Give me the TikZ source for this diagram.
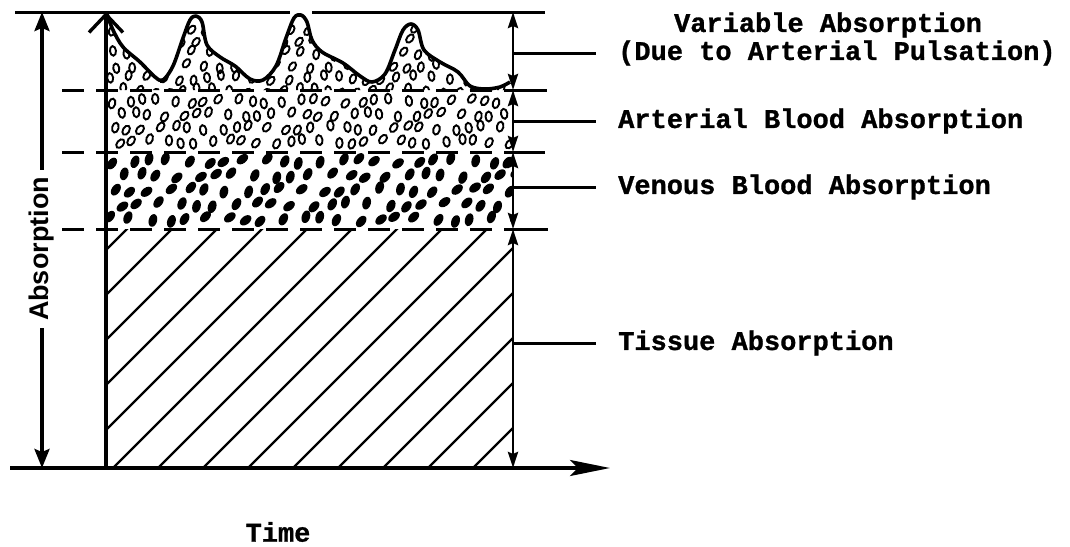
\documentclass[tikz,border=0pt]{standalone}
\usepackage{fontspec}
\setmonofont{Liberation Mono}[BoldFeatures={FakeBold=1}]
\setsansfont{Liberation Sans}
\usetikzlibrary{arrows.meta,positioning}

\begin{document}
\begin{tikzpicture}[
  x=1pt, y=-1pt,
  axis/.style={line width=3.4pt},
  dimln/.style={line width=2.8pt, {Stealth[length=16pt,width=10pt,inset=2pt]}-{Stealth[length=16pt,width=10pt,inset=2pt]}},
  level/.style={line width=3pt, dash pattern=on 22pt off 12pt},
  tick/.style={line width=3pt},
  hatch/.style={line width=2.2pt},
  wave/.style={line width=3.6pt, line join=round},
  cell/.style={line width=1.9pt},
  blob/.style={fill=black},
  lbl/.style={font=\ttfamily\bfseries\fontsize{27}{30}\selectfont, anchor=west, inner xsep=22pt, inner ysep=0pt},
  axlbl/.style={font=\sffamily\bfseries\fontsize{27}{29}\selectfont, inner sep=7pt}
]
\useasboundingbox (0,0) rectangle (1070,546);

% ============================================================
% KEY POINTS
% ============================================================
\coordinate (O) at (106,468);
\coordinate (ytip) at (106,12);
\coordinate (xstart) at (10,468);
\coordinate (xtip) at (610,468);
\coordinate (abstop) at (42,12);
\coordinate (absbot) at (42,468);
\coordinate (d0) at (513,12);
\coordinate (d1) at (513,90);
\coordinate (d2) at (513,152);
\coordinate (d3) at (513,229);
\coordinate (d4) at (513,468);
\coordinate (m1) at (513,53);
\coordinate (m2) at (513,121);
\coordinate (m3) at (513,187);
\coordinate (m4) at (513,343);

% ============================================================
% TISSUE: hatching
% ============================================================
\begin{scope}
  \clip (106,229) rectangle (513,468);
  \foreach \k in {-6,...,8}
    \draw[hatch] (113+45*\k,468) -- ++(250,-250);
\end{scope}

% ============================================================
% VENOUS: black blobs
% ============================================================
\begin{scope}
  \clip (106,152) rectangle (513,229);
  \foreach \i in {0,...,21}
    \foreach \j in {0,...,4} {
      \pgfmathsetmacro\px{112+19*\i+9*mod(\j,2)+4*sin(97*\i+53*\j)}
      \pgfmathsetmacro\py{161+14.5*\j+2.5*cos(71*\i+131*\j)}
      \pgfmathsetmacro\rt{-35+20*sin(43*\i+89*\j)}
      \fill[blob, shift={(\px,\py)}, rotate=\rt] (0,0) ellipse [x radius=4.2pt, y radius=6.5pt];
    }
\end{scope}

% ============================================================
% ARTERIAL: hollow ovals
% ============================================================
\begin{scope}
  \clip (106,90) rectangle (513,152);
  \foreach \i in {0,...,25}
    \foreach \j in {0,...,3} {
      \pgfmathsetmacro\px{112+15.5*\i+7*mod(\j,2)+3.5*sin(97*\i+53*\j)}
      \pgfmathsetmacro\py{101+13.5*\j+2.5*cos(71*\i+131*\j)}
      \pgfmathsetmacro\rt{-15+25*sin(43*\i+89*\j)}
      \draw[cell, shift={(\px,\py)}, rotate=\rt] (0,0) ellipse [x radius=3.2pt, y radius=5pt];
    }
\end{scope}

% ============================================================
% VARIABLE: pulsating top with hollow ovals
% ============================================================
\begin{scope}
  \clip plot[smooth, tension=0.55] coordinates {(107,14) (113,30) (123,47) (140,62) (155,77) (163,80) (173,66) (183,38) (190,20) (196,16) (202,22) (207,45) (220,57) (235,66) (250,79) (263,80) (276,66) (286,38) (294,18) (301,15) (307,22) (312,40) (322,52) (343,63) (360,76) (372,82) (385,74) (395,50) (403,30) (411,24) (418,30) (424,50) (440,62) (458,72) (470,86) (485,89) (500,87) (510,82)} -- (513,90) -- (106,90) -- cycle;
  \foreach \i in {0,...,25}
    \foreach \j in {0,...,5} {
      \pgfmathsetmacro\px{112+16*\i+8*mod(\j,2)+4*sin(37*\i+83*\j)}
      \pgfmathsetmacro\py{28+12.5*\j+3*cos(61*\i+113*\j)}
      \pgfmathsetmacro\rt{-15+25*sin(53*\i+29*\j)}
      \draw[cell, shift={(\px,\py)}, rotate=\rt] (0,0) ellipse [x radius=3pt, y radius=4.8pt];
    }
\end{scope}
\draw[wave] plot[smooth, tension=0.55] coordinates {(107,14) (113,30) (123,47) (140,62) (155,77) (163,80) (173,66) (183,38) (190,20) (196,16) (202,22) (207,45) (220,57) (235,66) (250,79) (263,80) (276,66) (286,38) (294,18) (301,15) (307,22) (312,40) (322,52) (343,63) (360,76) (372,82) (385,74) (395,50) (403,30) (411,24) (418,30) (424,50) (440,62) (458,72) (470,86) (485,89) (500,87) (510,82)};

% ============================================================
% LEVEL LINES
% ============================================================
\draw[tick] (15,12) -- (290,12);
\draw[tick] (312,12) -- (545,12);
\draw[level] (62,90) -- (d1);
\draw[level] (62,152) -- (d2);
\draw[level] (62,229) -- (d3);
\draw[tick] (d1) -- ++(34,0);
\draw[tick] (d2) -- ++(32,0);
\draw[tick] (d3) -- ++(35,0);

% ============================================================
% AXES
% ============================================================
\draw[axis, -{Stealth[length=40pt,width=16pt,inset=8pt]}] (xstart) -- (xtip);
\draw[axis, -{Straight Barb[length=18pt,width=34pt]}] (O) -- (ytip);

\node[axlbl, rotate=90] (abslbl) at (42,249) {Absorption};
\draw[axis, -{Stealth[length=19pt,width=15pt,inset=3pt]}] (abslbl.east) -- (abstop);
\draw[axis, -{Stealth[length=19pt,width=15pt,inset=3pt]}] (abslbl.west) -- (absbot);

\node[lbl, anchor=center] (timelbl) at (278,532) {Time};

% ============================================================
% DIMENSION ARROWS + LABELS
% ============================================================
\draw[dimln] (d0) -- (d1);
\draw[dimln] (d1) -- (d2);
\draw[dimln] (d2) -- (d3);
\draw[dimln] (d3) -- (d4);

\node[lbl] (duelbl) at (596,53) {(Due to Arterial Pulsation)};
\node[lbl, anchor=center] (varlbl) at (828,25) {Variable Absorption};
\node[lbl] (artlbl) at (596,121) {Arterial Blood Absorption};
\node[lbl] (venlbl) at (596,187) {Venous Blood Absorption};
\node[lbl] (tislbl) at (596,343) {Tissue Absorption};

\draw[tick] (m1) -- (duelbl.west);
\draw[tick] (m2) -- (artlbl.west);
\draw[tick] (m3) -- (venlbl.west);
\draw[tick] (m4) -- (tislbl.west);

\end{tikzpicture}
\end{document}
